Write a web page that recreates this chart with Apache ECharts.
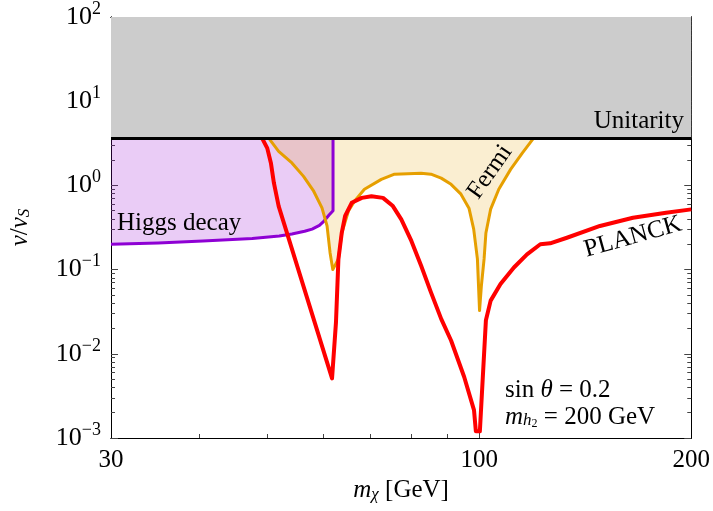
<!DOCTYPE html>
<html>
<head>
<meta charset="utf-8">
<script src="https://cdn.jsdelivr.net/npm/echarts@6/dist/echarts.min.js"></script>
<style>
  html, body { margin: 0; padding: 0; background: #fff; }
  #box { width: 713px; height: 511px; }
</style>
</head>
<body>
<div id="box"></div>
<script>
// axis ranges and ticks
const xRange = [30, 200]
const yRange = [1e-3, 1e2]
const xLabelValues = [30, 100, 200]
const xMajorTicks = [100]
const xMinorTicks = [40, 50, 60, 70, 80, 90]
const yMajorTicks = [1e-3, 1e-2, 1e-1, 1, 10, 100]
const yMinorTicks = []
for (let d = -3; d < 2; d++) {
  for (let k = 2; k <= 9; k++) yMinorTicks.push(+(k * Math.pow(10, d)).toPrecision(3))
}

// unitarity bound v/vS
const unitarity = 3.6

// Higgs decay bound [m_chi, v/vS]
const higgsDecay = [
  [30, 0.2], [35, 0.207], [40.5, 0.219], [47.6, 0.234], [52, 0.25], [54.2, 0.265],
  [56.5, 0.285], [57.9, 0.303], [59.3, 0.335], [60.2, 0.377], [61.2, 0.445], [62, 0.5], [62, 3.6]
]

// Fermi bound
const fermi = [
  [50.3, 3.6], [51.9, 2.54], [54.2, 1.85], [56.3, 1.28], [58.2, 0.853],
  [59.8, 0.542], [60.8, 0.33], [61.4, 0.159], [61.95, 0.1], [63.1, 0.134],
  [63.8, 0.272], [65.2, 0.496], [66.5, 0.65], [68.7, 0.9], [72.6, 1.18],
  [75.8, 1.36], [82.7, 1.39], [85.4, 1.36], [88.3, 1.22], [91.2, 1.03],
  [94.2, 0.787], [96.7, 0.537], [98.2, 0.303], [99.4, 0.134], [100.1, 0.0326],
  [100.7, 0.064], [101.6, 0.134], [102.2, 0.272], [103.8, 0.523], [106.6, 0.9],
  [110.8, 1.55], [115.1, 2.42], [119.3, 3.6]
]

// Planck relic abundance
const planck = [
  [49.2, 3.6], [50.0, 2.77], [50.6, 1.85], [51.1, 1.07], [51.9, 0.568],
  [61.8, 0.0051], [62.6, 0.0237], [63.1, 0.133], [63.8, 0.275], [64.5, 0.433],
  [65.9, 0.621], [68.1, 0.711], [70.3, 0.745], [73.0, 0.711], [75.4, 0.568],
  [77.5, 0.395], [80.1, 0.219], [82.7, 0.111], [85.4, 0.0536], [88.3, 0.026],
  [91.2, 0.0144], [95.2, 0.0053], [98.3, 0.00214], [98.9, 0.0012], [100.2, 0.0012],
  [102.2, 0.025], [103.8, 0.0428], [107.2, 0.0675], [112.0, 0.106], [116.9, 0.152],
  [122.1, 0.2], [126.1, 0.205], [133.2, 0.239], [148.4, 0.33], [165.3, 0.413],
  [184.2, 0.473], [200, 0.519]
]

const serif = "Liberation Serif"
const chart = echarts.init(document.getElementById('box'))

// filled region through the axes' scales
function region(name, pts, fill, z) {
  return {
    name: name,
    type: 'custom',
    coordinateSystem: 'cartesian2d',
    xAxisIndex: 0,
    yAxisIndex: 0,
    silent: true,
    z: z,
    data: [pts[0]],
    renderItem: function (params, api) {
      return {
        type: 'polygon',
        shape: { points: pts.map(p => api.coord(p)) },
        style: { fill: fill, stroke: null }
      }
    }
  }
}

function curve(name, pts, color, width, z) {
  return {
    name: name,
    type: 'line',
    xAxisIndex: 0,
    yAxisIndex: 0,
    data: pts,
    symbol: 'none',
    showSymbol: false,
    silent: true,
    z: z,
    lineStyle: { color: color, width: width, join: 'round' }
  }
}

function xAxisDef(pos, ticks, len, withLabels) {
  return {
    type: 'log', logBase: 10, min: xRange[0], max: xRange[1], position: pos,
    axisLine: { show: true, onZero: false, lineStyle: { color: '#000', width: 1 } },
    axisTick: { show: true, inside: true, length: len, customValues: ticks, lineStyle: { color: '#444' } },
    axisLabel: withLabels ? {
      show: true, customValues: xLabelValues, margin: 10,
      fontFamily: serif, fontSize: 25, color: '#000',
      formatter: v => String(Math.round(v))
    } : { show: false },
    splitLine: { show: false }
  }
}

function yAxisDef(pos, ticks, len, withLabels) {
  return {
    type: 'log', logBase: 10, min: yRange[0], max: yRange[1], position: pos,
    axisLine: { show: true, onZero: false, lineStyle: { color: '#000', width: 1 } },
    axisTick: { show: true, inside: true, length: len, customValues: ticks, lineStyle: { color: '#444' } },
    axisLabel: withLabels ? {
      show: true, customValues: yMajorTicks, margin: 10,
      formatter: v => {
        const e = Math.round(Math.log10(v))
        return '{b|10}{s|' + (e < 0 ? '\u2212' + (-e) : e) + '}'
      },
      rich: {
        b: { fontFamily: serif, fontSize: 26, color: '#000', lineHeight: 34 },
        s: { fontFamily: serif, fontSize: 18, color: '#000', verticalAlign: 'top', lineHeight: 18 }
      }
    } : { show: false },
    splitLine: { show: false }
  }
}

const labelRich = {
  i: { fontFamily: serif, fontStyle: 'italic', fontSize: 25, color: '#000' },
  sub: { fontFamily: serif, fontStyle: 'italic', fontSize: 17, color: '#000', verticalAlign: 'bottom' },
  r: { fontFamily: serif, fontSize: 25, color: '#000' }
}

const xAxes = [
  xAxisDef('bottom', xMajorTicks, 7, true),
  xAxisDef('bottom', xMinorTicks, 4, false),
  xAxisDef('top', xMajorTicks, 7, false),
  xAxisDef('top', xMinorTicks, 4, false)
]
xAxes[0].name = '{i|m}{sub|\u03c7}{r| [GeV]}'
xAxes[0].nameLocation = 'middle'
xAxes[0].nameGap = 36
xAxes[0].nameTextStyle = { rich: labelRich }

const yAxes = [
  yAxisDef('left', yMajorTicks, 7, true),
  yAxisDef('left', yMinorTicks, 4, false),
  yAxisDef('right', yMajorTicks, 7, false),
  yAxisDef('right', yMinorTicks, 4, false)
]
yAxes[0].name = '{i|v}{r|/}{i|v}{sub|S}'
yAxes[0].nameLocation = 'middle'
yAxes[0].nameRotate = 90
yAxes[0].nameGap = 78
yAxes[0].nameTextStyle = { rich: labelRich }

const topBox = [[xRange[0], unitarity], [xRange[1], unitarity], [xRange[1], yRange[1]], [xRange[0], yRange[1]]]

function note(text, x, y, align, deg) {
  return {
    type: 'text', x: x, y: y, z: 20, silent: true, rotation: (deg || 0) * Math.PI / 180,
    style: {
      text: text, fontFamily: serif, fontSize: 25, fontWeight: 'normal', fontStyle: 'normal',
      fill: '#000', align: align, verticalAlign: 'middle'
    }
  }
}

const option = {
  animation: false,
  backgroundColor: '#fff',
  grid: { left: 108, right: 21, top: 15, bottom: 73, containLabel: false },
  xAxis: xAxes,
  yAxis: yAxes,
  series: [
    region('Unitarity', topBox, '#cccccc', 1),
    region('Higgs decay', higgsDecay.concat([[xRange[0], unitarity]]), 'rgba(148,0,211,0.2)', 2),
    region('Fermi', fermi, 'rgba(230,159,0,0.18)', 3),
    curve('Higgs decay', higgsDecay, '#8e00d4', 3, 5),
    curve('Fermi', fermi, '#e69f00', 3, 6),
    curve('PLANCK', planck, '#ff0000', 4, 7),
    curve('Unitarity', [[xRange[0], unitarity], [xRange[1], unitarity]], '#000', 3, 8)
  ],
  graphic: [
    note('Unitarity', 684, 121, 'right'),
    note('Higgs decay', 117, 223, 'left'),
    note('Fermi', 490, 172, 'center', 55),
    note('PLANCK', 633, 237, 'center', 15.5),
    {
      type: 'text', x: 505, y: 390, z: 20, silent: true,
      style: {
        text: '{r|sin }{i|\u03b8}{r| = 0.2}', align: 'left', verticalAlign: 'middle',
        rich: {
          r: { fontFamily: serif, fontSize: 25, fill: '#000' },
          i: { fontFamily: serif, fontStyle: 'italic', fontSize: 25, fill: '#000' }
        }
      }
    },
    {
      type: 'text', x: 505, y: 417, z: 20, silent: true,
      style: {
        text: '{i|m}{sub|h}{sub2|2}{r| = 200 GeV}', align: 'left', verticalAlign: 'middle',
        rich: {
          i: { fontFamily: serif, fontStyle: 'italic', fontSize: 25, fill: '#000' },
          sub: { fontFamily: serif, fontStyle: 'italic', fontSize: 17, fill: '#000', verticalAlign: 'bottom' },
          sub2: { fontFamily: serif, fontSize: 12, fill: '#000', verticalAlign: 'bottom' },
          r: { fontFamily: serif, fontSize: 25, fill: '#000' }
        }
      }
    }
  ]
}

chart.setOption(option)
</script>
</body>
</html>
